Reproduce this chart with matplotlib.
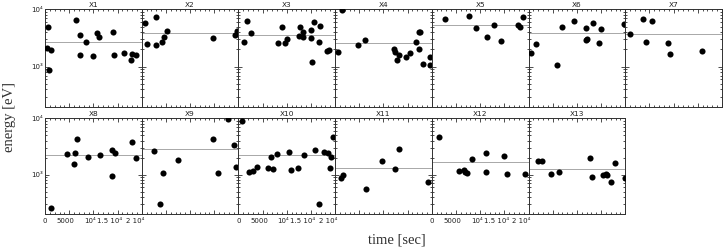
import matplotlib
matplotlib.use("Agg")
import matplotlib.pyplot as plt
from matplotlib.ticker import FixedLocator, LogLocator, NullFormatter, FixedFormatter

# ---------------- data ----------------
panel_names = ["X1", "X2", "X3", "X4", "X5", "X6", "X7",
               "X8", "X9", "X10", "X11", "X12", "X13"]

t_X1 = [350, 560, 830, 1240, 6410, 7240, 7240, 8420, 9990, 10690, 11230, 14130, 14330, 16340, 17710, 18050, 18810]
e_X1 = [2085, 4970, 870, 1970, 6430, 3560, 1590, 2720, 1530, 3810, 3325, 4020, 1610, 1725, 1300, 1660, 1575]
t_X2 = [690, 1090, 3020, 2950, 4200, 4670, 5170, 14740, 19230, 19760]
e_X2 = [5700, 2480, 7430, 2410, 2720, 3245, 4130, 3190, 3560, 4180]
t_X3 = [1160, 1710, 2540, 8120, 9070, 9690, 10110, 12460, 12740, 13360, 13290, 15010, 15630, 15070, 15220, 16940, 16660, 18380, 18670]
e_X3 = [2655, 6250, 3810, 2550, 4850, 2580, 2990, 3420, 4850, 4060, 3290, 4350, 5930, 3160, 1190, 5120, 2655, 1870, 1950]
t_X4 = [1360, 600, 4670, 6180, 12110, 12440, 13150, 12790, 14660, 15490, 16730, 17280, 17610, 17280, 18110, 19620, 19620]
e_X4 = [9800, 1800, 2355, 2910, 2000, 1820, 1590, 1300, 1490, 1710, 2690, 3970, 4020, 2030, 1125, 1450, 1080]
t_X5 = [2670, 7690, 9140, 11520, 12860, 14310, 17890, 18300, 18850]
e_X5 = [6690, 7640, 4770, 3245, 5260, 2770, 5260, 4970, 7250]
t_X6 = [580, 1610, 5830, 6860, 9350, 11890, 12030, 11890, 13340, 14640, 14930, 19740]
e_X6 = [1750, 2450, 1055, 4910, 6180, 4720, 3070, 2910, 5700, 2580, 4580, 5610]
t_X7 = [990, 3680, 5610, 4300, 8790, 9260, 15880]
e_X7 = [3750, 6780, 6250, 2655, 2550, 1660, 1890]
t_X8 = [1180, 4480, 6000, 6200, 6550, 8890, 11370, 13780, 13920, 14410, 17990, 18880]
e_X8 = [261, 2290, 1550, 2410, 4240, 2050, 2200, 957, 2770, 2450, 3810, 1950]
t_X9 = [2610, 3780, 4460, 7440, 14800, 15770, 17780, 19150, 19440]
e_X9 = [2655, 299, 1080, 1820, 4300, 1067, 9900, 3420, 1375]
t_X10 = [690, 2190, 2960, 3780, 6050, 6670, 7090, 7920, 10400, 10870, 12320, 13620, 15770, 16670, 17750, 18460, 18940, 19200, 19500]
e_X10 = [9080, 1125, 1170, 1375, 1290, 2050, 1255, 2320, 2510, 1215, 1340, 2200, 2770, 299, 2550, 2410, 1340, 2030, 4720]
t_X11 = [1150, 1570, 6450, 9690, 12320, 13270, 19150]
e_X11 = [861, 995, 553, 1725, 1240, 2910, 743]
t_X12 = [1490, 5630, 6720, 6930, 7230, 8250, 11210, 11140, 14930, 15480, 19330]
e_X12 = [4580, 1156, 1190, 1125, 1055, 1890, 2450, 1125, 2170, 1025, 1010]
t_X13 = [2030, 2860, 4710, 6300, 12710, 13200, 15470, 15970, 16180, 17060, 17830, 19960]
e_X13 = [1780, 1725, 1025, 1125, 1970, 908, 972, 1025, 972, 752, 1615, 883]

mean_levels = [2655, 3855, 3560, 2550, 5320, 3810, 3705,
               2260, 2910, 2260, 1300, 1710, 1240]

x_tick_values = [0, 5000, 10000, 15000, 20000]
x_tick_labels = ["0", "5000", "10\u2074", "1.5 10\u2074", "2 10\u2074"]
y_tick_values = [1e3, 1e4]
y_tick_labels = ["10\u00b3", "10\u2074"]
x_range = (0, 20000)
y_range = (200, 1e4)

times = [t_X1, t_X2, t_X3, t_X4, t_X5, t_X6, t_X7,
         t_X8, t_X9, t_X10, t_X11, t_X12, t_X13]
energies = [e_X1, e_X2, e_X3, e_X4, e_X5, e_X6, e_X7,
            e_X8, e_X9, e_X10, e_X11, e_X12, e_X13]
xlabel_panels = ["X8", "X10", "X12"]

plt.rcParams["font.family"] = ["DejaVu Sans"]

# ---------------- figure ----------------
W, H = 724, 247
fig = plt.figure(figsize=(W / 100, H / 100), dpi=100)

left0 = 45.0
pw = 96.7
row_top = [9.3, 118.3]
ph = [97.4, 95.8]
frame_col = "#303030"
text_col = "#202020"
# horizontal label nudges (points) to mimic the original label placement
x_label_nudge = [0, -2.6, -2.4, -5.8, -5.0]

for i, name in enumerate(panel_names):
    r, c = divmod(i, 7)
    x0 = (left0 + c * pw) / W
    y0 = 1 - (row_top[r] + ph[r]) / H
    ax = fig.add_axes([x0, y0, pw / W, ph[r] / H])
    ax.set_yscale("log")
    ax.plot(times[i], energies[i], "o", color="black", ms=4.4, mew=0, zorder=3)
    ax.axhline(mean_levels[i], color="#a8a8a8", lw=0.7, zorder=2)
    ax.set_xlim(*x_range)
    ax.set_ylim(*y_range)

    ax.xaxis.set_major_locator(FixedLocator(x_tick_values))
    ax.xaxis.set_minor_locator(FixedLocator(list(range(x_range[0], x_range[1] + 1, 1000))))
    ax.yaxis.set_major_locator(FixedLocator(y_tick_values))
    ax.yaxis.set_minor_locator(LogLocator(base=10, subs=range(2, 10), numticks=20))
    ax.yaxis.set_minor_formatter(NullFormatter())
    ax.xaxis.set_major_formatter(NullFormatter())

    if name in xlabel_panels:
        for v, lab, dx in zip(x_tick_values, x_tick_labels, x_label_nudge):
            ax.annotate(lab, xy=(v, 0), xycoords=("data", "axes fraction"),
                        xytext=(dx, -2.6), textcoords="offset points",
                        ha="center", va="top", fontsize=5.0, color=text_col,
                        annotation_clip=False)
    if c == 0:
        ax.yaxis.set_major_formatter(FixedFormatter(y_tick_labels))
    else:
        ax.yaxis.set_major_formatter(NullFormatter())

    ax.tick_params(which="both", direction="in", top=True, right=True,
                   color=frame_col, width=0.6, labelsize=5.0, labelcolor=text_col)
    ax.tick_params(which="major", length=3.0, pad=1.5)
    ax.tick_params(which="minor", length=1.5)
    for sp in ax.spines.values():
        sp.set_color(frame_col)
        sp.set_linewidth(0.7)
    ax.set_title(name, fontsize=5.3, pad=1.4, color=text_col)

fig.text(397 / W, 1 - 240 / H, "time [sec]", ha="center", va="center",
         fontsize=10.5, family="Liberation Serif", color="#303030")
fig.text(10 / W, 1 - 117 / H, "energy [eV]", ha="center", va="center",
         rotation=90, fontsize=10.5, family="Liberation Serif", color="#303030")

fig.savefig("out.png", dpi=100)
